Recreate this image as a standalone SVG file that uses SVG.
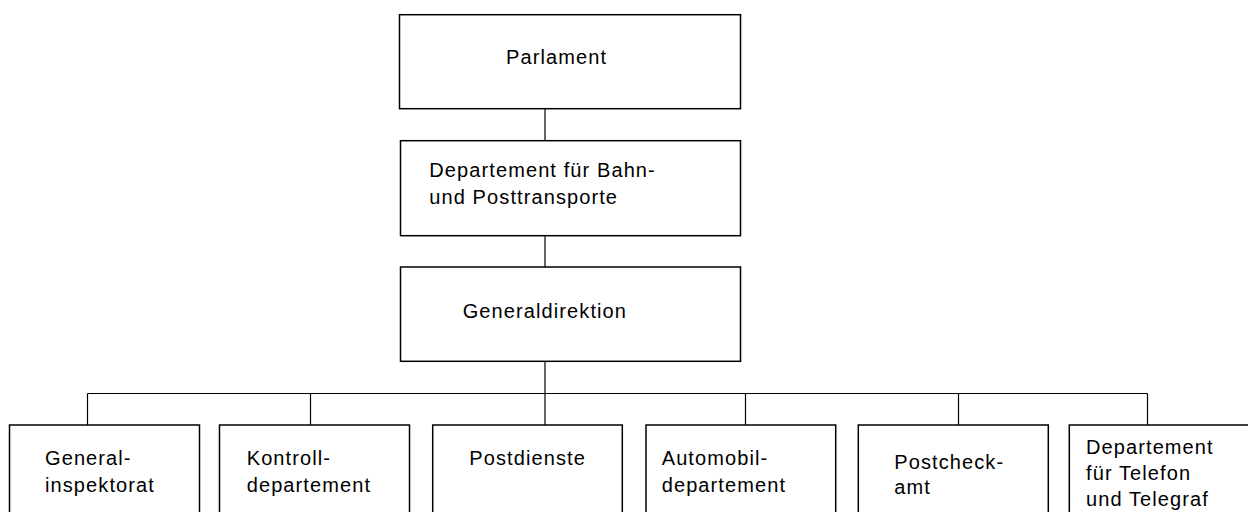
<svg xmlns="http://www.w3.org/2000/svg" width="1248" height="512" viewBox="0 0 1248 512">
<style>
.box{fill:#fff;stroke:#000;stroke-width:1.5}
.ln{fill:none;stroke:#000;stroke-width:1.2}
text{font-family:"Liberation Sans",Arial,sans-serif;font-size:20px;letter-spacing:1.1px;fill:#000}
</style>
<rect width="1248" height="512" fill="#fff"/>
<g id="connectors">
<line class="ln" x1="545" y1="109" x2="545" y2="141"/>
<line class="ln" x1="545" y1="236" x2="545" y2="267"/>
<line class="ln" x1="545" y1="361" x2="545" y2="425"/>
<line class="ln" x1="87.5" y1="393.5" x2="1147.5" y2="393.5"/>
<line class="ln" x1="87.5" y1="393.5" x2="87.5" y2="425"/>
<line class="ln" x1="310.5" y1="393.5" x2="310.5" y2="425"/>
<line class="ln" x1="745.5" y1="393.5" x2="745.5" y2="425"/>
<line class="ln" x1="958.5" y1="393.5" x2="958.5" y2="425"/>
<line class="ln" x1="1147.5" y1="393.5" x2="1147.5" y2="425"/>
</g>
<g id="parlament">
<rect class="box" x="399.5" y="14.7" width="341" height="94"/>
<text x="506" y="64">Parlament</text>
</g>
<g id="departement-bahn">
<rect class="box" x="400.5" y="140.7" width="340" height="95"/>
<text x="429.3" y="177">Departement für Bahn-</text>
<text x="429.3" y="203.5">und Posttransporte</text>
</g>
<g id="generaldirektion">
<rect class="box" x="400.5" y="267" width="340" height="94.3"/>
<text x="462.7" y="318">Generaldirektion</text>
</g>
<g id="generalinspektorat">
<rect class="box" x="9.5" y="425" width="190" height="100"/>
<text x="45" y="465">General-</text>
<text x="45" y="492">inspektorat</text>
</g>
<g id="kontrolldepartement">
<rect class="box" x="219.5" y="425" width="190" height="100"/>
<text x="246.7" y="465">Kontroll-</text>
<text x="246.7" y="492">departement</text>
</g>
<g id="postdienste">
<rect class="box" x="432.7" y="425" width="189.6" height="100"/>
<text x="469.3" y="465">Postdienste</text>
</g>
<g id="automobildepartement">
<rect class="box" x="646" y="425" width="189.7" height="100"/>
<text x="661.7" y="465">Automobil-</text>
<text x="661.7" y="492">departement</text>
</g>
<g id="postcheckamt">
<rect class="box" x="858.3" y="425" width="190" height="100"/>
<text x="894.3" y="468.5">Postcheck-</text>
<text x="894.3" y="494">amt</text>
</g>
<g id="departement-telefon">
<rect class="box" x="1069.3" y="425" width="190" height="100"/>
<text x="1086" y="454">Departement</text>
<text x="1086" y="480">für Telefon</text>
<text x="1086" y="506">und Telegraf</text>
</g>
</svg>
